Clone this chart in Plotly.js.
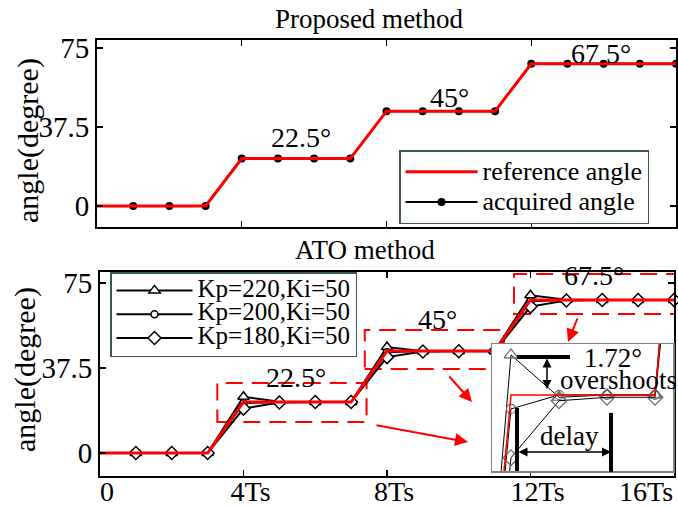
<!DOCTYPE html>
<html><head><meta charset="utf-8">
<script src="https://cdn.plot.ly/plotly-3.0.1.min.js"></script>
<style>body{margin:0;background:#fff}#chart{width:678px;height:508px}</style>
</head><body><div id="chart"></div>
<script>
// ---- data ----
const refTime = [0,1,2,3,4,5,6,7,8,9,10,11,12,13,14,15,16];
const refAngle = [0,0,0,0,22.5,22.5,22.5,22.5,45,45,45,45,67.5,67.5,67.5,67.5,67.5];
const sampleTime = [1,2,3,4,5,6,7,8,9,10,11,12,13,14,15,16];
const acquiredAngle = [0,0,0,22.5,22.5,22.5,22.5,45,45,45,45,67.5,67.5,67.5,67.5,67.5];
const kp220 = [0,0,0,24.8,22.6,22.5,22.5,46.72,44.9,45,45,69.6,67.6,67.5,67.5,67.5];
const kp200 = [0,0,0,22.0,22.5,22.5,22.5,44.4,45.0,45,45,67.0,67.5,67.5,67.5,67.5];
const kp180 = [0,0,0,19.6,22.3,22.5,22.5,42.3,44.75,44.9,44.9,64.6,67.3,67.5,67.5,67.5];
const seriesNames = ['Kp=220,Ki=50','Kp=200,Ki=50','Kp=180,Ki=50'];
const topNames = ['reference angle','acquired angle'];
const xTickVals = [0,4,8,12,16];
const xTickText = ['0','4Ts','8Ts','12Ts','16Ts'];
const yTickVals = [0,37.5,75];
const yTickText = ['0','37.5','75'];
const stepLabels = ['22.5°','45°','67.5°'];

// ---- layout helpers ----
const FONT = 'Liberation Serif, Times New Roman, serif';
const L = 97, B = 32, PW = 579, PH = 436, H = 508;
const px = v => (v - L) / PW;
const py = v => (H - B - v) / PH;
const RED = '#ff0000';
const big = (s, size) => '<span style="font-size:' + size + 'px">' + s + '</span>';
// last tick label padded so that it stays inside the figure like the original
const xTickShown = xTickText.map((s, i) => i === xTickText.length - 1 ? s + '\u00a0'.repeat(10) : s);

const ato = [kp220, kp200, kp180];
const symbols = ['triangle-up','circle','diamond'];
const msize = [10, 7, 10];

const traces = [];
traces.push({x: sampleTime, y: acquiredAngle, xaxis:'x', yaxis:'y', mode:'lines+markers',
  name: big(topNames[1], 26), legend:'legend', legendrank:2, cliponaxis:false,
  line:{color:'#000', width:2}, marker:{color:'#000', size:8, symbol:'circle'}});
traces.push({x: refTime, y: refAngle, xaxis:'x', yaxis:'y', mode:'lines',
  name: big(topNames[0], 26), legend:'legend', legendrank:1, cliponaxis:false,
  line:{color:RED, width:3}});
ato.forEach((s,i) => traces.push({x: sampleTime, y: s, xaxis:'x2', yaxis:'y2', mode:'lines+markers',
  name: big(seriesNames[i], 25), legend:'legend2', cliponaxis:false,
  line:{color:'#000', width:2},
  marker:{symbol: symbols[i], size: msize[i], color:'#fff', line:{color:'#000', width:1.5}}}));
traces.push({x: refTime, y: refAngle, xaxis:'x2', yaxis:'y2', mode:'lines', showlegend:false,
  cliponaxis:false, line:{color:RED, width:3}});
// inset (zoomed view of the same data)
ato.forEach((s,i) => traces.push({x: sampleTime, y: s, xaxis:'x3', yaxis:'y3', mode:'lines+markers',
  showlegend:false, line:{color:'#000', width:1},
  marker:{symbol: symbols[i], size: msize[i]+2, color:'rgba(255,255,255,0)', line:{color:'#666', width:1.2}}}));
traces.push({x: refTime, y: refAngle, xaxis:'x3', yaxis:'y3', mode:'lines', showlegend:false,
  line:{color:RED, width:1.5}});

const axBase = {showline:true, linecolor:'#000', linewidth:2, mirror:'ticks', ticks:'inside',
  ticklen:6, tickwidth:1.2, tickcolor:'#000', showgrid:false, zeroline:false,
  tickfont:{family:FONT, size:29, color:'#000'}};

const dashRect = (x0,x1,y0,y1) => ({type:'rect', xref:'x2', yref:'y2', x0, x1, y0, y1, layer:'below',
  line:{color:RED, width:2, dash:'17px,9px'}});
const blackLine = (x0,y0,x1,y1) => ({type:'line', xref:'paper', yref:'paper',
  x0:px(x0), y0:py(y0), x1:px(x1), y1:py(y1), line:{color:'#000', width:4}});

const txt = (text, x, y, xref, yref, size, angle) => ({text, x, y, xref, yref, showarrow:false,
  xanchor:'center', yanchor:'middle', textangle: angle || 0, font:{family:FONT, size, color:'#000'}});
const redArrow = (hx, hy, ax, ay) => ({text:'', x:px(hx), y:py(hy), xref:'paper', yref:'paper',
  showarrow:true, ax, ay, axref:'pixel', ayref:'pixel', arrowhead:2, arrowsize:1.3, arrowwidth:2,
  arrowcolor:RED, standoff:0, startstandoff:0});
const dblArrow = (hx, hy, ax, ay) => ({text:'', x:px(hx), y:py(hy), xref:'paper', yref:'paper',
  showarrow:true, ax, ay, axref:'pixel', ayref:'pixel', arrowhead:2, startarrowhead:2, arrowside:'end+start',
  arrowsize:1.2, startarrowsize:1.2, arrowwidth:1.5, arrowcolor:'#000', standoff:0, startstandoff:0});

const layout = {
  width:678, height:508,
  margin:{l:L, r:2, t:40, b:B},
  paper_bgcolor:'#fff', plot_bgcolor:'#fff',
  font:{family:FONT, color:'#000'},
  title:{text:'Proposed method', font:{family:FONT, size:27, color:'#000'},
    x:369/678, xanchor:'center', y:1-19/508, yanchor:'middle'},
  xaxis:Object.assign({}, axBase, {domain:[0,1], range:[0,16], tickvals:xTickVals, showticklabels:false, anchor:'y'}),
  yaxis:Object.assign({}, axBase, {domain:[py(227),1], range:[-9.96,78.8], tickvals:yTickVals, ticktext:yTickText, anchor:'x'}),
  xaxis2:Object.assign({}, axBase, {domain:[px(100),px(674)], range:[0,16], tickvals:xTickVals, ticktext:xTickShown,
    anchor:'y2', ticklabeloverflow:'allow', ticklabelstandoff:-11, ticklabelshift:7,
    tickfont:{family:FONT, size:28, color:'#000'}}),
  yaxis2:Object.assign({}, axBase, {domain:[0,py(272)], range:[-10.15,79.85], tickvals:yTickVals, ticktext:yTickText, anchor:'x2'}),
  xaxis3:{domain:[px(492),px(673)], range:[7.604,11.375], anchor:'y3', showline:true, mirror:true,
    linecolor:'#808080', linewidth:1.5, showticklabels:false, ticks:'', showgrid:false, zeroline:false},
  yaxis3:{domain:[py(471),py(344)], range:[41.73,47.19], anchor:'x3', showline:true, mirror:true,
    linecolor:'#808080', linewidth:1.5, showticklabels:false, ticks:'', showgrid:false, zeroline:false},
  legend:{x:px(399), y:py(150), xanchor:'left', yanchor:'top', bgcolor:'#fff',
    bordercolor:'#3f5a4a', borderwidth:1.5, itemwidth:72,
    font:{family:FONT, size:21, color:'#000'}},
  legend2:{x:px(110), y:py(272), xanchor:'left', yanchor:'top', bgcolor:'#fff',
    bordercolor:'#3f5a4a', borderwidth:1.5, itemwidth:76,
    font:{family:FONT, size:16, color:'#000'}},
  shapes:[
    dashRect(3.27, 7.43, 13.7, 30.9),
    dashRect(7.38, 11.26, 37.1, 54.3),
    dashRect(11.54, 16.6, 61.3, 78.97),
    blackLine(517,357,570,357),
    blackLine(517,408,517,471),
    blackLine(611,413,611,472)
  ],
  annotations:[
    txt('angle(degree)', px(28), py(141), 'paper', 'paper', 30, -90),
    txt('angle(degree)', px(25), py(370), 'paper', 'paper', 30, -90),
    txt('ATO method', px(365), py(250), 'paper', 'paper', 27),
    txt(stepLabels[0], 5.64, 32.3, 'x', 'y', 28),
    txt(stepLabels[1], 9.75, 51.7, 'x', 'y', 28),
    txt(stepLabels[2], 13.93, 72.6, 'x', 'y', 28),
    txt(stepLabels[0], 5.46, 33.1, 'x2', 'y2', 28),
    txt(stepLabels[1], 9.40, 59.1, 'x2', 'y2', 28),
    txt(stepLabels[2], 13.78, 78.5, 'x2', 'y2', 28),
    redArrow(468, 442, -93, -17),
    redArrow(472, 402, -24, -27),
    redArrow(568, 342, 10, -25),
    dblArrow(547, 389, 0, -32),
    dblArrow(611, 452, -94, 0),
    txt('1.72°', px(613), py(358), 'paper', 'paper', 27),
    txt('overshoots', px(618), py(380), 'paper', 'paper', 27),
    txt('delay', px(569), py(436), 'paper', 'paper', 27)
  ]
};

Plotly.newPlot('chart', traces, layout, {displayModeBar:false, staticPlot:true});
</script>
</body></html>
